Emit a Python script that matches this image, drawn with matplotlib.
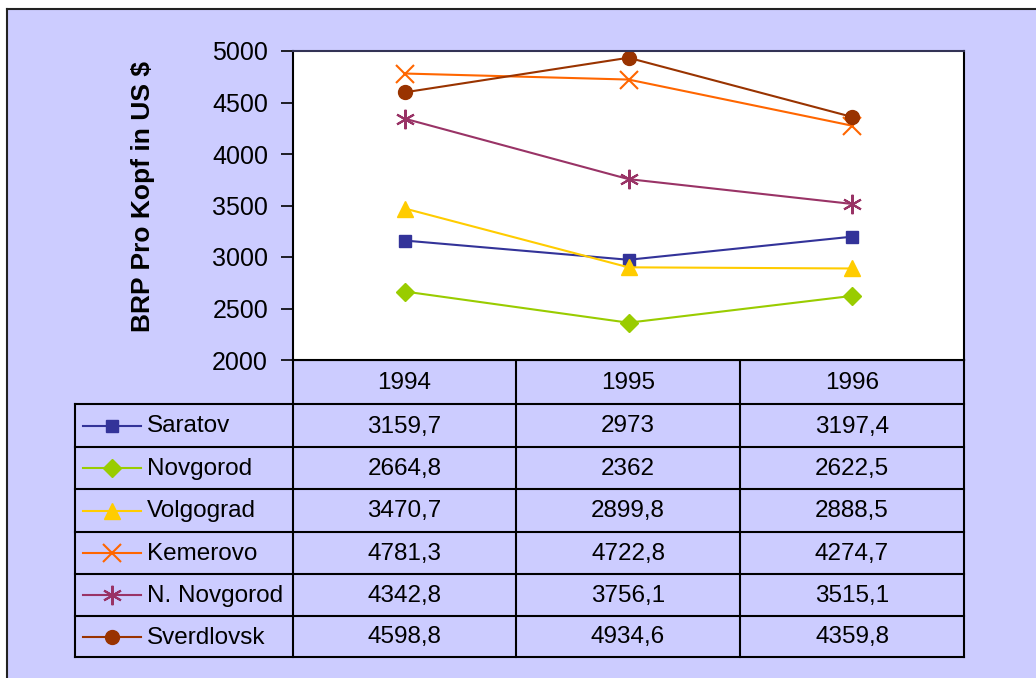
import matplotlib
matplotlib.use("Agg")
import matplotlib.pyplot as plt

plt.rcParams['font.family'] = ['Liberation Sans', 'DejaVu Sans']

years = ["1994", "1995", "1996"]
regions = ["Saratov", "Novgorod", "Volgograd", "Kemerovo", "N. Novgorod", "Sverdlovsk"]
saratov = [3159.7, 2973.0, 3197.4]
novgorod = [2664.8, 2362.0, 2622.5]
volgograd = [3470.7, 2899.8, 2888.5]
kemerovo = [4781.3, 4722.8, 4274.7]
n_novgorod = [4342.8, 3756.1, 3515.1]
sverdlovsk = [4598.8, 4934.6, 4359.8]
series = [saratov, novgorod, volgograd, kemerovo, n_novgorod, sverdlovsk]
y_ticks = [2000, 2500, 3000, 3500, 4000, 4500, 5000]

colors = ["#333399", "#99CC00", "#FFCC00", "#FF6600", "#993366", "#993300"]
markers = ["s", "D", "^", "x", (6, 2, 0), "o"]
msizes = [9, 9, 12, 13, 14, 10]

W, H = 1036, 678
BG = "#CCCCFF"
fig = plt.figure(figsize=(W / 100, H / 100), dpi=100)
fig.patch.set_facecolor("white")

# overlay axes in pixel coordinates
ov = fig.add_axes([0, 0, 1, 1])
ov.set_xlim(0, W)
ov.set_ylim(H, 0)
ov.axis("off")
ov.add_patch(plt.Rectangle((7, 9), W + 20, H + 20, facecolor=BG, edgecolor="none", zorder=0))
ov.plot([7, 7], [9, H + 10], color="#222222", lw=1.5, zorder=1)
ov.plot([7, W + 10], [9, 9], color="#222222", lw=1.5, zorder=1)

# plot area
L, R, T, B = 293, 964, 51, 360
ax = fig.add_axes([L / W, 1 - B / H, (R - L) / W, (B - T) / H])
ax.set_facecolor("white")
x = [1, 2, 3]
for s, c, m, ms in zip(series, colors, markers, msizes):
    mew = 1.5 if m in ("x", (6, 2, 0)) else 1.0
    ax.plot(x, s, color=c, marker=m, markersize=ms, lw=1.5, mec=c, mfc=c, mew=mew, clip_on=False)
ax.set_xlim(0.5, 3.5)
ax.set_ylim(2000, 5000)
ax.set_yticks(y_ticks)
ax.set_yticklabels([str(t) for t in y_ticks], fontsize=18)
ax.set_xticks([])
ax.tick_params(axis="y", length=9, width=1.2, direction="out", pad=9)
for sp in ["left", "right", "bottom"]:
    ax.spines[sp].set_color("black")
    ax.spines[sp].set_linewidth(1.5)
ax.spines["top"].set_color("#333355")
ax.spines["top"].set_linewidth(1.5)
ov.text(143, 197, "BRP Pro Kopf in US $", rotation=90, fontsize=19, fontweight="bold",
        ha="center", va="center", zorder=3)

# table
cols = [L, 516, 740, R]
rows = [B, 404, 447, 489, 532, 574, 616, 657]
tl = 75
lc = "black"
lw = 1.5
ov.plot([L, R], [rows[0], rows[0]], color=lc, lw=lw, zorder=2)
for yy in rows[1:]:
    ov.plot([tl, R], [yy, yy], color=lc, lw=lw, zorder=2)
for xx in cols:
    ov.plot([xx, xx], [rows[0], rows[-1]], color=lc, lw=lw, zorder=2)
ov.plot([tl, tl], [rows[1], rows[-1]], color=lc, lw=lw, zorder=2)

TFS = 17.5
for i, yr in enumerate(years):
    ov.text((cols[i] + cols[i + 1]) / 2, (rows[0] + rows[1]) / 2 + 1, yr,
            ha="center", va="center", fontsize=TFS, zorder=3)


def fmt(v):
    return ("%g" % v).replace(".", ",")


for r, (name, s, c, m, ms) in enumerate(zip(regions, series, colors, markers, msizes)):
    yc = (rows[r + 1] + rows[r + 2]) / 2
    mew = 1.5 if m in ("x", (6, 2, 0)) else 1.0
    ov.plot([83, 141], [yc, yc], color=c, lw=1.5, zorder=3)
    ov.plot([112], [yc], marker=m, color=c, markersize=ms, mec=c, mfc=c, mew=mew, zorder=4)
    ov.text(147, yc + 1, name, ha="left", va="center", fontsize=TFS, zorder=3)
    for i, v in enumerate(s):
        ov.text((cols[i] + cols[i + 1]) / 2, yc + 1, fmt(v),
                ha="center", va="center", fontsize=TFS, zorder=3)

fig.savefig("out.png", dpi=100, facecolor=fig.get_facecolor())
